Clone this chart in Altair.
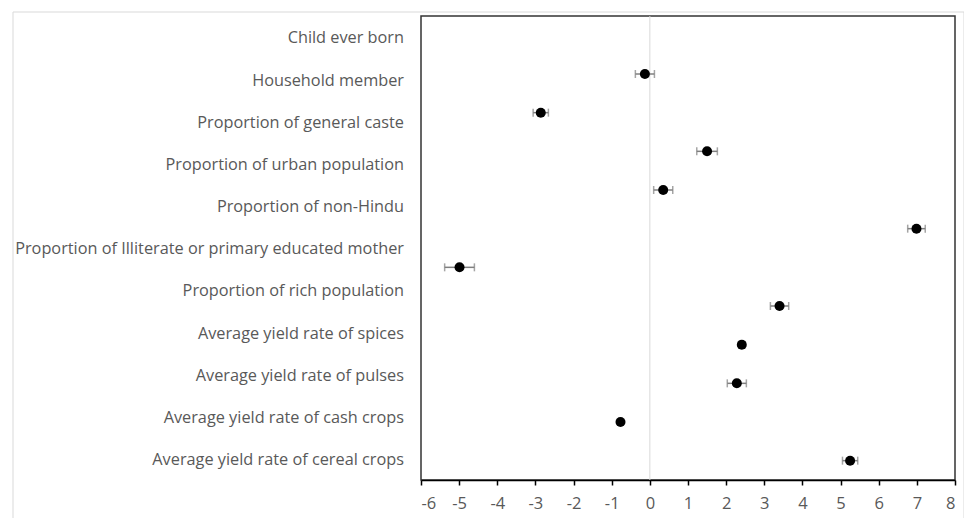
import altair as alt
import pandas as pd

labels = [
    "Child ever born",
    "Household member",
    "Proportion of general caste",
    "Proportion of urban population",
    "Proportion of non-Hindu",
    "Proportion of Illiterate or primary educated mother",
    "Proportion of rich population",
    "Average yield rate of spices",
    "Average yield rate of pulses",
    "Average yield rate of cash crops",
    "Average yield rate of cereal crops",
]
estimate = [-0.13, -2.86, 1.50, 0.35, 6.99, -4.99, 3.40, 2.41, 2.28, -0.77, 5.25]
lower = [-0.38, -3.06, 1.23, 0.10, 6.76, -5.38, 3.16, 2.33, 2.03, -0.80, 5.05]
upper = [0.12, -2.66, 1.77, 0.60, 7.22, -4.60, 3.64, 2.49, 2.53, -0.74, 5.45]
x_ticks = list(range(-6, 9))

df = pd.DataFrame({
    "label": labels,
    "label_pos": list(range(len(labels))),
    "slot": [i + 1 for i in range(len(labels))],
    "est": estimate,
    "lo": lower,
    "hi": upper,
})

FONT = "Open Sans"
gray_text = "#595959"
xscale = alt.Scale(domain=[-6, 8], nice=False, zero=False)
yslot = alt.Scale(domain=[-0.5, 11.5], reverse=True, nice=False, zero=False)
ylab = alt.Scale(domain=[-0.53, 10.47], reverse=True, nice=False, zero=False)

xaxis = alt.Axis(values=x_ticks, title=None, grid=False,
                 domainColor="#000000", domainWidth=1.5,
                 tickColor="#000000", tickSize=5, tickWidth=1.5,
                 labelColor=gray_text, labelFontSize=16.5,
                 labelFont=FONT, labelPadding=10,
                 labelExpr="'' + datum.value")

base = alt.Chart(df)

zero_line = alt.Chart(pd.DataFrame({"z": [0]})).mark_rule(
    color="#d9d9d9", strokeWidth=1
).encode(x=alt.X("z:Q", scale=xscale, axis=xaxis))

errbars = base.mark_errorbar(
    ticks=alt.MarkConfig(size=8), color="#7f7f7f", thickness=1.5
).encode(
    x=alt.X("lo:Q", scale=xscale, axis=xaxis),
    x2="hi:Q",
    y=alt.Y("slot:Q", scale=yslot, axis=None),
)

points = base.mark_circle(size=100, color="#000000", opacity=1).encode(
    x=alt.X("est:Q", scale=xscale, axis=xaxis),
    y=alt.Y("slot:Q", scale=yslot, axis=None),
)

text = base.mark_text(
    align="right", baseline="middle", fontSize=16.3, font=FONT, color=gray_text
).encode(
    x=alt.value(-17),
    y=alt.Y("label_pos:Q", scale=ylab, axis=None),
    text="label:N",
)

outer = alt.Chart(pd.DataFrame({"a": [0]})).mark_rect(
    fill=None, stroke="#d9d9d9", strokeWidth=1
).encode(x=alt.value(-408), x2=alt.value(543), y=alt.value(-4), y2=alt.value(560))

chart = alt.layer(zero_line, outer, errbars, points, text).resolve_scale(
    y="independent"
).properties(
    width=534,
    height=464,
    autosize=alt.AutoSizeParams(type="none"),
    padding={"left": 413, "top": 8, "right": 9, "bottom": 38},
).configure_view(
    stroke="#333333", strokeWidth=1.5
)

chart.save("out.html", embed_options={"renderer": "svg", "actions": False})
